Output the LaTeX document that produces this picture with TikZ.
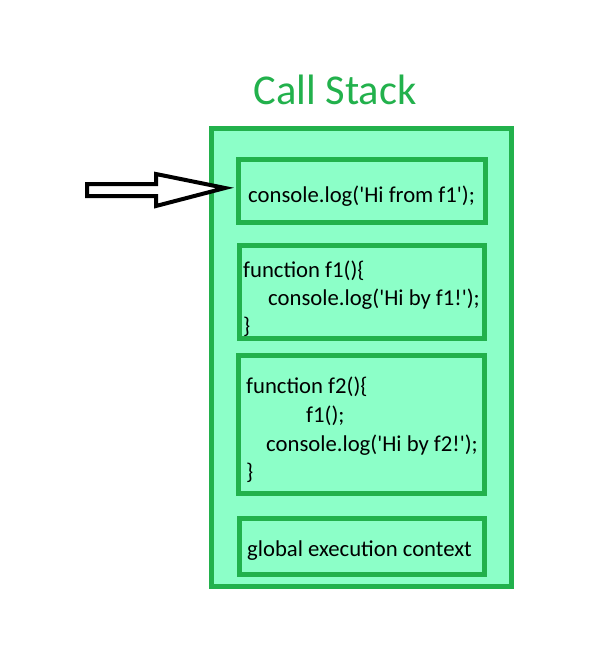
\documentclass[tikz,border=0pt]{standalone}
\usepackage{fontspec}
\setmainfont{Carlito}
\definecolor{stackgreen}{HTML}{22B14C}
\definecolor{stackfill}{HTML}{8CFFC8}
\newcommand{\sq}{\textquotesingle}
\tikzset{
  stackbox/.style={draw=stackgreen, fill=stackfill, line width=5bp, rectangle, inner sep=0pt, outer sep=0pt, anchor=north west},
  codetext/.style={inner sep=0pt, anchor=base west, font=\fontsize{22.7bp}{28bp}\selectfont, text=black},
  titletext/.style={inner sep=0pt, anchor=base, font=\fontsize{42.5bp}{50bp}\selectfont, text=stackgreen},
  blockarrow/.style={draw=black, line width=4bp, fill=white, line join=miter}
}
\begin{document}
\begin{tikzpicture}[x=1bp, y=-1bp]
\useasboundingbox[fill=white] (0,0) rectangle (589,670);
\node[titletext] (title) at (335,105) {Call Stack};
\node[stackbox, minimum width=300bp, minimum height=458bp] (stack) at (211.5,128.5) {};
\node[stackbox, minimum width=247bp, minimum height=63bp] (b1) at (238.5,159.5) {};
\node[stackbox, minimum width=245bp, minimum height=93bp] (b2) at (239.5,245.5) {};
\node[stackbox, minimum width=246bp, minimum height=138bp] (b3) at (238.5,355.5) {};
\node[stackbox, minimum width=245bp, minimum height=56bp] (b4) at (239.5,518.5) {};
% texts
\node[codetext] (t1) at (248,202) {console.log(\sq Hi from f1\sq);};
\node[codetext] (t2a) at (243,277) {function f1()\{};
\node[codetext] (t2b) at (268,305) {console.log(\sq Hi by f1!\sq);};
\node[codetext] (t2c) at (243,333) {\}};
\node[codetext] (t3a) at (246,393) {function f2()\{};
\node[codetext] (t3b) at (306,422) {f1();};
\node[codetext] (t3c) at (266,451) {console.log(\sq Hi by f2!\sq);};
\node[codetext] (t3d) at (246,479) {\}};
\node[codetext] (t4) at (247,556) {global execution context};
% block arrow
\draw[blockarrow] (87,184) -- (156,184) -- (156,174) -- (225,188) -- (156,206) -- (156,196) -- (87,196) -- cycle;
\end{tikzpicture}
\end{document}
